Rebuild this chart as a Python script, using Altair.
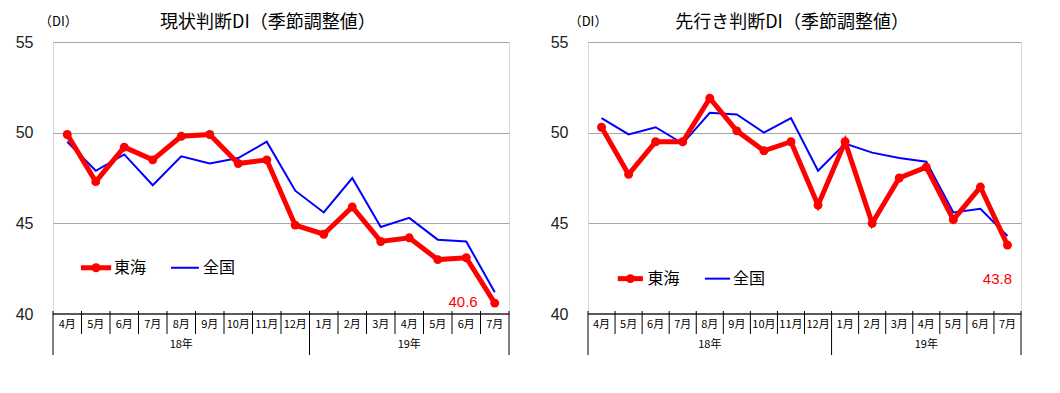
import altair as alt
import pandas as pd

months = ["4月", "5月", "6月", "7月", "8月", "9月", "10月", "11月", "12月",
          "1月", "2月", "3月", "4月", "5月", "6月", "7月"]
years = ["18年", "19年"]
year_start = [0, 9]
year_end = [9, 16]

genjo_tokai = [49.9, 47.3, 49.2, 48.5, 49.8, 49.9, 48.3, 48.5, 44.9, 44.4, 45.9, 44.0, 44.2, 43.0, 43.1, 40.6]
genjo_zenkoku = [49.5, 47.9, 48.8, 47.1, 48.7, 48.3, 48.6, 49.5, 46.8, 45.6, 47.5, 44.8, 45.3, 44.1, 44.0, 41.2]
saki_tokai = [50.3, 47.7, 49.5, 49.5, 51.9, 50.1, 49.0, 49.5, 46.0, 49.5, 45.0, 47.5, 48.1, 45.2, 47.0, 43.8]
saki_zenkoku = [50.8, 49.9, 50.3, 49.4, 51.1, 51.0, 50.0, 50.8, 47.9, 49.4, 48.9, 48.6, 48.4, 45.6, 45.8, 44.3]

series_names = ["東海", "全国"]

RED = "#FF0000"
BLUE = "#0000FF"
JP = "Noto Sans CJK JP"
H = 272


def panel(title, tokai, zenkoku, w, title_x, di_x, leg, ann):
    n = len(months)
    xs = alt.Scale(domain=[0, n], nice=False, zero=False)
    ys = alt.Scale(domain=[40, 55], nice=False, zero=False)
    yax = alt.Axis(values=[40, 45, 50, 55], grid=True, domain=False,
                   ticks=False, labelPadding=20, labelFontSize=16, title=None,
                   labelFont="Liberation Sans", labelColor="#222222",
                   gridColor="#A6A6A6", gridWidth=1)

    def XQ(field):
        return alt.X(field, type="quantitative", scale=xs, axis=None)

    def YQ(field):
        return alt.Y(field, type="quantitative", scale=ys, axis=yax)

    df = pd.DataFrame({
        "x": [i + 0.5 for i in range(n)],
        "month": months,
        "tokai": tokai,
        "zenkoku": zenkoku,
    })
    base = alt.Chart(df)

    zen = base.mark_line(color=BLUE, strokeWidth=2).encode(x=XQ("x"), y=YQ("zenkoku"))
    tok = base.mark_line(color=RED, strokeWidth=5).encode(x=XQ("x"), y=YQ("tokai"))
    tokp = base.mark_circle(color=RED, size=80, opacity=1).encode(x=XQ("x"), y=YQ("tokai"))

    adf = pd.DataFrame({"x": [0, n], "y": [40, 40]})
    axis_line = alt.Chart(adf).mark_line(color="#595959", strokeWidth=2).encode(
        x=XQ("x"), y=YQ("y"))

    bdf = pd.DataFrame({"b": list(range(n + 1))})
    mdiv = alt.Chart(bdf).mark_rule(color="#000000", strokeWidth=1).encode(
        x=XQ("b"), y=alt.value(H - 3), y2=alt.value(H + 20))
    ydf = pd.DataFrame({"b": [year_start[0]] + year_end})
    ydiv = alt.Chart(ydf).mark_rule(color="#000000", strokeWidth=1).encode(
        x=XQ("b"), y=alt.value(H + 20), y2=alt.value(H + 41))

    mlab = base.mark_text(font=JP, fontSize=11, color="#000000").encode(
        x=XQ("x"), y=alt.value(H + 11), text="month:N")
    ylab_df = pd.DataFrame({"x": [(s + e) / 2 for s, e in zip(year_start, year_end)],
                            "t": years})
    ylab = alt.Chart(ylab_df).mark_text(font=JP, fontSize=11, color="#000000").encode(
        x=XQ("x"), y=alt.value(H + 31), text="t:N")

    hdf = pd.DataFrame({"x": [title_x, di_x], "y": [56.05, 56.1], "t": [title, "（DI）"],
                        "s": [18, 13]})
    ttl = alt.Chart(hdf).mark_text(font=JP, color="#000000").encode(
        x=XQ("x"), y=YQ("y"), text="t:N",
        size=alt.Size("s:Q", scale=None, legend=None))

    # legend
    (rx1, rx2, bx1, bx2, ly, tx1, tx2) = leg
    lr = alt.Chart(pd.DataFrame({"x": [rx1, rx2], "y": [ly, ly]})).mark_line(
        color=RED, strokeWidth=5).encode(x=XQ("x"), y=YQ("y"))
    lp = alt.Chart(pd.DataFrame({"x": [(rx1 + rx2) / 2], "y": [ly]})).mark_circle(
        color=RED, size=80, opacity=1).encode(x=XQ("x"), y=YQ("y"))
    lb = alt.Chart(pd.DataFrame({"x": [bx1, bx2], "y": [ly, ly]})).mark_line(
        color=BLUE, strokeWidth=2).encode(x=XQ("x"), y=YQ("y"))
    ltx = alt.Chart(pd.DataFrame({"x": [tx1, tx2], "y": [ly, ly], "t": series_names})).mark_text(
        font=JP, fontSize=16, color="#000000", align="left").encode(
        x=XQ("x"), y=YQ("y"), text="t:N")

    ax, ay = ann
    last = f"{tokai[-1]:.1f}"
    an = alt.Chart(pd.DataFrame({"x": [ax], "y": [ay], "t": [last]})).mark_text(
        font="Liberation Sans", fontSize=15, color=RED, align="right").encode(
        x=XQ("x"), y=YQ("y"), text="t:N")

    return alt.layer(zen, axis_line, mdiv, ydiv, mlab, ylab, tok, tokp,
                     lr, lp, lb, ltx, an, ttl).properties(width=w, height=H)


left = panel("現状判断DI（季節調整値）", genjo_tokai, genjo_zenkoku, 456, 7.54, 0.19,
             (0.98, 2.04, 4.14, 5.12, 42.55, 2.14, 5.26), (14.9, 40.65))
right = panel("先行き判断DI（季節調整値）", saki_tokai, saki_zenkoku, 433, 7.54, 0.0,
              (1.1, 2.03, 4.32, 5.25, 41.95, 2.2, 5.36), (15.67, 41.95))

chart = alt.hconcat(left, right, spacing=35).properties(
    padding={"left": 6, "top": 5, "right": 5, "bottom": 5},
    background="white",
).configure_view(stroke="#D9D9D9")

chart.save("out.html", embed_options={"renderer": "svg", "actions": False})
